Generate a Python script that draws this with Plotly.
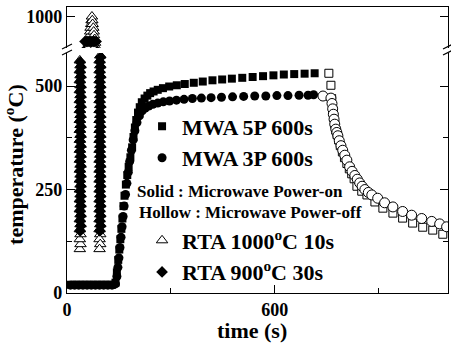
import plotly.graph_objects as go

# ---------------- data ----------------
# MWA 5P 600s : solid squares (power on), hollow squares (power off)
mwa5_on_t = [10, 22, 34, 46, 58, 70, 82, 94, 106, 118, 130, 140, 144, 148, 151, 154, 157, 160, 163, 166,
             170, 174, 178, 183, 188, 192, 196, 200, 205, 210, 216, 224, 232, 240, 250, 262, 277, 295, 317, 340,
             366, 392, 420, 448, 476, 506, 536, 566, 596, 626, 656, 686, 715]
mwa5_on_v = [20, 20, 20, 20, 20, 20, 20, 20, 20, 20, 20, 25, 50, 80, 105, 130, 155, 180, 210, 235,
             262, 285, 305, 328, 352, 377, 400, 418, 436, 449, 461, 470, 477, 483, 487, 491, 495, 499, 502, 505,
             508, 511, 514, 516, 518, 520, 522, 524, 526, 528, 529, 530, 531]
mwa5_off_t = [756, 762, 764, 767, 770, 773, 776, 780, 784, 789, 795, 801, 808, 815, 822, 829, 837, 851, 866, 889,
              912, 941, 969, 998, 1027, 1056, 1085]
mwa5_off_v = [531, 502, 470, 445, 425, 408, 394, 382, 370, 356, 341, 327, 313, 300, 288, 276, 258, 246, 237, 220,
              205, 193, 181, 169, 159, 152, 142]

# MWA 3P 600s : solid circles (power on), hollow circles (power off)
mwa3_on_t = [10, 22, 34, 46, 58, 70, 82, 94, 106, 118, 130, 140, 144, 147, 150, 153, 156, 159, 162, 165,
             169, 173, 177, 181, 186, 191, 196, 202, 209, 217, 226, 236, 248, 262, 278, 296, 316, 338, 362, 388,
             416, 446, 478, 510, 542, 574, 606, 638, 670, 696, 712]
mwa3_on_v = [19, 19, 19, 19, 19, 19, 19, 19, 19, 19, 19, 22, 40, 62, 85, 110, 135, 160, 185, 210,
             238, 265, 292, 318, 345, 370, 392, 412, 428, 440, 447, 452, 456, 459, 462, 464, 466, 468, 470, 471,
             472, 473, 474, 475, 476, 476, 477, 477, 478, 478, 479]
mwa3_off_t = [739, 762, 765, 767, 769, 771, 773, 776, 779, 782, 786, 791, 796, 802, 808, 816, 823, 831, 838, 845,
              852, 860, 870, 880, 897, 917, 941, 969, 995, 1024, 1053, 1076, 1096]
mwa3_off_v = [476, 471, 458, 445, 432, 420, 408, 396, 388, 380, 368, 356, 345, 333, 321, 305, 294, 284, 275, 266,
              258, 250, 243, 237, 229, 218, 208, 197, 188, 180, 173, 167, 160]

# RTA 1000 C 10s : hollow triangles (ramp up, peak, ramp down)
rta1000_t = ([37, 39, 37, 39, 37, 39, 37, 39, 37, 39, 37, 39, 37, 39, 37, 39, 37, 39, 37, 39, 37,
              39, 37, 39, 37, 39, 37, 39, 37, 39, 37, 39, 37, 39, 37, 39, 37, 39, 37, 40, 42, 45]
             + [62, 63, 64, 66, 67, 68, 70, 71, 72, 73, 74, 76, 77, 78, 80, 81, 82]
             + [90, 92, 94, 96, 94, 96, 94, 96, 94, 96, 94, 96, 94, 96, 94, 96, 94, 96, 94, 96, 94, 96,
                94, 96, 94, 96, 94, 96, 94, 96, 94, 96, 94, 96, 94, 96, 94, 96, 94, 96, 94, 96, 94])
rta1000_v = ([106, 118, 130, 142, 154, 166, 178, 190, 202, 214, 226, 238, 250, 262, 274, 286, 298, 310, 322, 334, 346,
              358, 370, 382, 394, 406, 418, 430, 442, 454, 466, 478, 490, 502, 514, 526, 538, 550, 562, 640, 720, 800]
             + [880, 895, 910, 925, 940, 955, 970, 985, 1000, 985, 970, 955, 940, 925, 910, 895, 880]
             + [800, 720, 640, 574, 562, 550, 538, 526, 514, 502, 490, 478, 466, 454, 442, 430, 418, 406, 394, 382, 370,
                358, 346, 334, 322, 310, 298, 286, 274, 262, 250, 238, 226, 214, 202, 190, 178, 166, 154, 142, 130,
                118, 106])

# RTA 900 C 30s : solid diamonds
rta900_t = ([38, 40, 38, 40, 38, 40, 38, 40, 38, 40, 38, 40, 38, 40, 38, 40, 38, 40, 38, 40,
             38, 40, 38, 40, 38, 40, 38, 40, 38, 40, 38, 40, 38, 40, 38, 41, 43, 45, 48]
            + [52, 56, 60, 64, 68, 72, 76, 80, 84]
            + [88, 91, 93, 95, 97, 95, 97, 95, 97, 95, 97, 95, 97, 95, 97, 95, 97, 95, 97, 95,
               97, 95, 97, 95, 97, 95, 97, 95, 97, 95, 97, 95, 97, 95, 97, 95, 97, 95, 97, 95])
rta900_v = ([150, 162, 174, 186, 198, 210, 222, 234, 246, 258, 270, 282, 294, 306, 318, 330, 342, 354, 366, 378,
             390, 402, 414, 426, 438, 450, 462, 474, 486, 498, 510, 522, 534, 546, 558, 620, 700, 780, 860]
            + [900, 900, 900, 900, 900, 900, 900, 900, 900]
            + [860, 780, 700, 620, 570, 558, 546, 534, 522, 510, 498, 486, 474, 462, 450, 438, 426, 414, 402, 390,
               378, 366, 354, 342, 330, 318, 306, 294, 282, 270, 258, 246, 234, 222, 210, 198, 186, 174, 162, 150])

# axis ticks
x_ticks = [0, 600]
x_minor = [300, 900]
y_ticks = [0, 250, 500]
y_minor = [125, 375]
y2_ticks = [1000]

FONT = "Liberation Serif"
BLACK = "black"

fig = go.Figure()

fig.add_trace(go.Scatter(x=mwa5_on_t, y=mwa5_on_v, mode="markers", name="MWA 5P 600s",
                         marker=dict(symbol="square", size=8, color=BLACK), legend="legend"))
fig.add_trace(go.Scatter(x=mwa3_on_t, y=mwa3_on_v, mode="markers", name="MWA 3P 600s",
                         marker=dict(symbol="circle", size=9, color=BLACK), legend="legend"))
fig.add_trace(go.Scatter(x=mwa5_off_t, y=mwa5_off_v, mode="markers", showlegend=False,
                         marker=dict(symbol="square", size=8, color="white", line=dict(color=BLACK, width=1))))
fig.add_trace(go.Scatter(x=mwa3_off_t, y=mwa3_off_v, mode="markers", showlegend=False,
                         marker=dict(symbol="circle", size=10, color="white", line=dict(color=BLACK, width=1))))

tri = dict(symbol="triangle-up", size=10, color="white", line=dict(color=BLACK, width=1))
dia = dict(symbol="diamond", size=9, color=BLACK)
fig.add_trace(go.Scatter(x=rta1000_t, y=rta1000_v, mode="markers", name="RTA 1000<sup>o</sup>C 10s",
                         marker=tri, legend="legend2"))
fig.add_trace(go.Scatter(x=rta900_t, y=rta900_v, mode="markers", name="RTA 900<sup>o</sup>C 30s",
                         marker=dia, legend="legend2"))
fig.add_trace(go.Scatter(x=rta1000_t, y=rta1000_v, mode="markers", showlegend=False,
                         marker=tri, xaxis="x2", yaxis="y2"))
fig.add_trace(go.Scatter(x=rta900_t, y=rta900_v, mode="markers", showlegend=False,
                         marker=dia, xaxis="x2", yaxis="y2"))

tickfont = dict(family=FONT, size=18, color=BLACK, weight="bold")
LW = 1.2

fig.update_layout(
    width=451, height=347,
    margin=dict(l=67, r=3, t=7, b=54, pad=0),
    paper_bgcolor="white", plot_bgcolor="white",
    font=dict(family=FONT, color=BLACK),
    xaxis=dict(range=[0, 1100], tickvals=x_ticks, ticks="inside", ticklen=8, tickwidth=LW, tickcolor=BLACK,
               minor=dict(tickvals=x_minor, ticks="inside", ticklen=5, tickwidth=LW, tickcolor=BLACK),
               showline=True, linewidth=LW, linecolor=BLACK, showgrid=False, zeroline=False,
               tickfont=tickfont, anchor="y"),
    xaxis2=dict(matches="x", range=[0, 1100], anchor="y2", side="top", showline=True, linewidth=LW,
                linecolor=BLACK, showgrid=False, zeroline=False, showticklabels=False, ticks=""),
    yaxis=dict(domain=[0, 0.8392], range=[0, 580], tickvals=y_ticks, ticks="inside", ticklen=8,
               tickwidth=LW, tickcolor=BLACK,
               minor=dict(tickvals=y_minor, ticks="inside", ticklen=5, tickwidth=LW, tickcolor=BLACK),
               showline=True, linewidth=LW, linecolor=BLACK, mirror="ticks", showgrid=False, zeroline=False,
               tickfont=tickfont, anchor="x"),
    yaxis2=dict(domain=[0.8566, 1], range=[874, 1038], tickvals=y2_ticks, ticks="inside", ticklen=8,
                tickwidth=LW, tickcolor=BLACK, showline=True, linewidth=LW, linecolor=BLACK, mirror="ticks",
                showgrid=False, zeroline=False, tickfont=tickfont, anchor="x2"),
    legend=dict(x=0.197, y=0.656, xanchor="left", yanchor="top", bgcolor="rgba(0,0,0,0)",
                font=dict(family=FONT, size=22, color=BLACK, weight="bold"), tracegroupgap=0),
    legend2=dict(x=0.197, y=0.257, xanchor="left", yanchor="top", bgcolor="rgba(0,0,0,0)",
                 font=dict(family=FONT, size=22, color=BLACK, weight="bold"), tracegroupgap=0),
    showlegend=True,
)

ann_font = dict(family=FONT, size=17, color=BLACK, weight="bold")
fig.add_annotation(text="Solid : Microwave Power-on", x=0.1785, y=0.3566, xref="paper", yref="paper",
                   xanchor="left", yanchor="middle", showarrow=False, font=ann_font)
fig.add_annotation(text="Hollow : Microwave Power-off", x=0.1837, y=0.2832, xref="paper", yref="paper",
                   xanchor="left", yanchor="middle", showarrow=False, font=ann_font)
fig.add_annotation(text="temperature (<sup>o</sup>C)", x=-0.139, y=0.448, xref="paper", yref="paper",
                   textangle=-90, xanchor="center", yanchor="middle", showarrow=False,
                   font=dict(family=FONT, size=22, color=BLACK, weight="bold"))
fig.add_annotation(text="time (s)", x=0.4856, y=-0.131, xref="paper", yref="paper",
                   xanchor="center", yanchor="middle", showarrow=False,
                   font=dict(family=FONT, size=22, color=BLACK, weight="bold"))

# axis-break marks
for x0, x1 in [(-0.0131, 0.0131), (0.9869, 1.0131)]:
    for y0, y1 in [(0.8531, 0.8706), (0.8322, 0.8497)]:
        fig.add_shape(type="line", xref="paper", yref="paper", x0=x0, x1=x1, y0=y0, y1=y1,
                      line=dict(color=BLACK, width=LW))

fig.write_html("out.html", config={"displayModeBar": False},
               post_script="document.body.style.margin='0';")
